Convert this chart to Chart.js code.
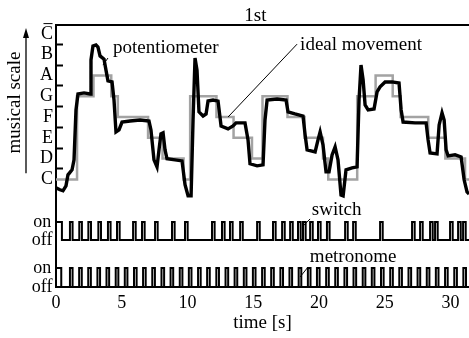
<!DOCTYPE html>
<html><head><meta charset="utf-8">
<script src="https://cdn.jsdelivr.net/npm/chart.js@4.4.0/dist/chart.umd.min.js"></script>
<style>html,body{margin:0;padding:0;background:#fff;overflow:hidden}#wrap{width:469px;height:338px;position:relative}</style>
</head><body><div id="wrap"><canvas id="c"></canvas></div>
<script>
// ---- data ----
const noteLabels = ['C','D','E','F','G','A','B','C\u0305'];
const noteTicks = [0,0.5,1,1.5,2,2.5,3,3.5,4,4.5,5,5.5,6,6.5,7];
const timeTicks = [0,5,10,15,20,25,30];

const potTime = [0.00,0.30,0.53,0.76,0.91,1.22,1.37,1.52,1.67,2.13,2.59,2.66,2.81,3.04,3.19,3.35,3.65,3.80,3.95,4.26,4.41,4.56,4.79,5.02,5.63,6.39,7.07,7.22,7.45,7.68,7.83,7.98,8.14,8.29,8.44,9.05,9.58,9.81,10.04,10.27,10.42,10.57,10.72,10.87,11.18,11.41,11.56,11.94,12.32,12.55,13.08,13.46,13.69,14.37,14.60,14.75,15.29,15.74,15.89,16.05,16.81,17.49,17.64,18.17,18.78,18.94,19.09,19.70,19.92,20.08,20.30,20.53,20.76,20.99,21.22,21.44,21.67,21.83,22.05,22.51,22.89,23.04,23.19,23.35,23.50,23.73,24.18,24.41,24.64,25.02,25.55,26.08,26.24,26.39,27.30,28.14,28.29,28.44,28.97,29.13,29.35,29.51,29.66,29.81,30.34,30.80,31.03,31.25,31.41];
const potValue = [-0.41,-0.50,-0.55,-0.31,0.22,0.46,0.94,3.34,4.11,4.16,4.11,5.75,6.42,6.47,6.37,5.94,5.79,5.26,4.74,4.69,3.82,2.28,2.38,2.76,2.81,2.86,2.81,2.38,0.94,0.60,1.42,2.19,2.24,1.42,0.99,0.94,0.89,-0.26,-0.79,-0.79,2.86,5.84,5.26,3.25,3.05,3.15,3.77,3.82,3.77,2.57,2.43,2.57,2.72,2.72,1.90,0.75,0.65,0.70,2.86,3.82,3.87,3.82,3.25,3.15,3.05,2.14,1.42,1.32,1.90,2.28,1.66,0.36,0.36,1.18,1.56,0.94,-0.75,-0.79,0.46,0.55,0.60,3.82,5.50,4.78,3.58,3.34,3.39,4.21,4.45,4.69,4.69,4.64,3.34,2.76,2.72,2.72,1.90,1.27,1.23,2.62,3.20,2.86,1.42,1.13,1.18,1.08,-0.02,-0.60,-0.70];

const idealTime = [0,1.6,2.85,4.2,4.7,7.0,8.1,9.7,10.2,12.2,13.5,14.9,15.7,17.6,18.9,20.3,20.7,22.9,24.3,25.6,26.2,28.3,29.6,31.1,31.4];
const idealNote = [0,4,5,4,3,2,1,0,4,3,2,1,4,3,2,1,0,4,5,4,3,2,1,0,0];

const switchOn  = [0.00,1.06,1.77,2.46,3.22,3.95,4.64,5.86,6.54,7.53,8.82,9.81,11.86,12.62,13.23,14.00,15.29,16.50,17.19,17.80,18.40,18.78,19.32,19.92,20.60,21.98,22.59,24.64,27.07,27.68,28.44,28.82,29.96,30.57,30.95];
const switchOff = [0.45,1.26,1.97,2.66,3.42,4.15,4.84,6.06,6.74,7.73,9.02,10.01,12.06,12.82,13.43,14.20,15.49,16.70,17.39,18.00,18.60,18.98,19.52,20.12,20.80,22.18,22.79,24.84,27.27,27.88,28.64,29.02,30.16,30.77,31.15];
const metroOn  = [0.00,1.06,1.76,2.45,3.15,3.84,4.54,5.23,5.93,6.62,7.32,8.02,8.71,9.41,10.10,10.80,11.49,12.19,12.89,13.58,14.28,14.97,15.67,16.36,17.06,17.75,18.45,19.15,19.84,20.54,21.23,21.93,22.62,23.32,24.01,24.71,25.41,26.10,26.80,27.49,28.19,28.88,29.58,30.28,30.97];
const metroOff = [0.40,1.26,1.96,2.65,3.35,4.04,4.74,5.43,6.13,6.82,7.52,8.22,8.91,9.61,10.30,11.00,11.69,12.39,13.09,13.78,14.48,15.17,15.87,16.56,17.26,17.95,18.65,19.35,20.04,20.74,21.43,22.13,22.82,23.52,24.21,24.91,25.61,26.30,27.00,27.69,28.39,29.08,29.78,30.48,31.17];
const tMax = 31.4;

// ---- build point lists ----
function pulses(on, off) {
  const pts = [];
  for (let i = 0; i < on.length; i++) {
    pts.push({x: on[i], y: 0}, {x: on[i], y: 1}, {x: off[i], y: 1}, {x: off[i], y: 0});
  }
  pts.push({x: tMax, y: 0});
  return pts;
}
const F = 'Liberation Serif';
const black = '#000';

const annotations = {
  id: 'annot',
  afterDraw(chart) {
    const {ctx, scales} = chart;
    const X = scales.x, Y = scales.y, S = scales.ysw, M = scales.ymet;
    ctx.save();
    ctx.fillStyle = black; ctx.strokeStyle = black;
    // arrow next to the musical scale title
    const ax = Y.left + 26, aTop = Y.top + 3, aBot = Y.getPixelForValue(0.3);
    ctx.lineWidth = 1.3;
    ctx.beginPath(); ctx.moveTo(ax, aBot); ctx.lineTo(ax, aTop + 6); ctx.stroke();
    ctx.beginPath(); ctx.moveTo(ax, aTop); ctx.lineTo(ax - 3, aTop + 10); ctx.lineTo(ax + 3, aTop + 10); ctx.closePath(); ctx.fill();
    // labels with leader lines
    const items = [
      {text: 'potentiometer', s: Y, tx: 4.33, ty: 6.08, l: [[3.95, 5.84], [3.57, 5.5]]},
      {text: 'ideal movement', s: Y, tx: 18.56, ty: 6.23, l: [[18.33, 6.51], [13.08, 3.0]]},
      {text: 'switch', s: S, tx: 19.45, ty: 1.39, l: [[19.32, 1.17], [18.71, 0.72]]},
      {text: 'metronome', s: M, tx: 19.3, ty: 1.32, l: [[19.16, 1.05], [18.56, 0.53]]}
    ];
    ctx.font = '19px "' + F + '"';
    ctx.textBaseline = 'alphabetic'; ctx.textAlign = 'left';
    ctx.lineWidth = 1;
    for (const it of items) {
      ctx.fillText(it.text, X.getPixelForValue(it.tx), it.s.getPixelForValue(it.ty));
      ctx.beginPath();
      ctx.moveTo(X.getPixelForValue(it.l[0][0]), it.s.getPixelForValue(it.l[0][1]));
      ctx.lineTo(X.getPixelForValue(it.l[1][0]), it.s.getPixelForValue(it.l[1][1]));
      ctx.stroke();
    }
    ctx.restore();
  }
};

const leftAxis = (extra) => Object.assign({
  type: 'linear', position: 'left', stack: 'left',
  afterFit: s => { s.width = 56; },
  border: {display: true, color: black, width: 2},
}, extra);

new Chart(document.getElementById('c'), {
  type: 'line',
  data: {
    datasets: [
      {label: 'potentiometer', data: potTime.map((t, i) => ({x: t, y: potValue[i]})), yAxisID: 'y', xAxisID: 'x',
       borderColor: black, borderWidth: 3.4, pointRadius: 0, tension: 0, order: 0,
       clip: {left: 0, top: 0, right: 0, bottom: 30}},
      {label: 'ideal movement', data: idealTime.map((t, i) => ({x: t, y: idealNote[i]})), yAxisID: 'y', xAxisID: 'x',
       borderColor: '#a3a3a3', borderWidth: 2.5, pointRadius: 0, stepped: true, order: 1,
       clip: {left: 0, top: 0, right: 0, bottom: 5}},
      {label: 'switch', data: pulses(switchOn, switchOff), yAxisID: 'ysw', xAxisID: 'x',
       borderColor: black, borderWidth: 2, pointRadius: 0, tension: 0, borderJoinStyle: 'miter', order: 2},
      {label: 'metronome', data: pulses(metroOn, metroOff), yAxisID: 'ymet', xAxisID: 'x',
       borderColor: black, borderWidth: 2, pointRadius: 0, tension: 0, borderJoinStyle: 'miter', order: 3}
    ]
  },
  options: {
    responsive: true, maintainAspectRatio: false, animation: false,
    layout: {padding: 0},
    plugins: {legend: {display: false}, tooltip: {enabled: false}},
    scales: {
      x: {
        type: 'linear', position: 'bottom', min: 0, max: tMax,
        afterBuildTicks: s => { s.ticks = timeTicks.map(v => ({value: v})); },
        afterFit: s => { s.height = 51; },
        grid: {display: false, drawTicks: false},
        border: {display: true, color: black, width: 2},
        ticks: {color: black, font: {family: F, size: 18}, padding: 5, maxRotation: 0, autoSkip: false},
        title: {display: true, text: 'time [s]', color: black, font: {family: F, size: 19}, padding: {top: 0, bottom: 4}}
      },
      x2: {
        type: 'linear', position: 'top', min: 0, max: tMax,
        afterFit: s => { s.height = 25; },
        grid: {display: false, drawTicks: false},
        border: {display: true, color: black, width: 2},
        ticks: {display: false},
        title: {display: true, text: '1st   ', color: black, font: {family: F, size: 19}, padding: {top: 5, bottom: 0}}
      },
      y: leftAxis({
        stackWeight: 155, weight: 3, min: -0.03, max: 7.43,
        afterBuildTicks: s => { s.ticks = noteTicks.map(v => ({value: v})); },
        grid: {display: true, drawOnChartArea: false, drawTicks: true, tickLength: -7, tickWidth: 2,
               tickColor: c => (c.tick && Number.isInteger(c.tick.value)) ? 'rgba(0,0,0,0)' : black},
        ticks: {color: black, font: {family: F, size: 18}, padding: 10, autoSkip: false,
                callback: v => Number.isInteger(v) ? noteLabels[v] : ''},
        title: {display: true, text: 'musical scale', color: black, font: {family: F, size: 19}, padding: {top: 4, bottom: 0}}
      }),
      ysw: leftAxis({
        stackWeight: 72, weight: 2, min: -0.667, max: 3.333,
        afterBuildTicks: s => { s.ticks = [{value: 0}, {value: 1}]; },
        grid: {display: false, drawTicks: false},
        ticks: {color: black, font: {family: F, size: 18}, padding: 3.5, crossAlign: 'center', autoSkip: false,
                callback: v => v === 1 ? 'on' : 'off'}
      }),
      ymet: leftAxis({
        stackWeight: 35, weight: 1, min: 0, max: 1.842,
        afterBuildTicks: s => { s.ticks = [{value: 0}, {value: 1}]; },
        grid: {display: false, drawTicks: false},
        ticks: {color: black, font: {family: F, size: 18}, padding: 3.5, crossAlign: 'center', autoSkip: false,
                callback: v => v === 1 ? 'on' : 'off'}
      })
    }
  },
  plugins: [annotations]
});
</script>
</body></html>
